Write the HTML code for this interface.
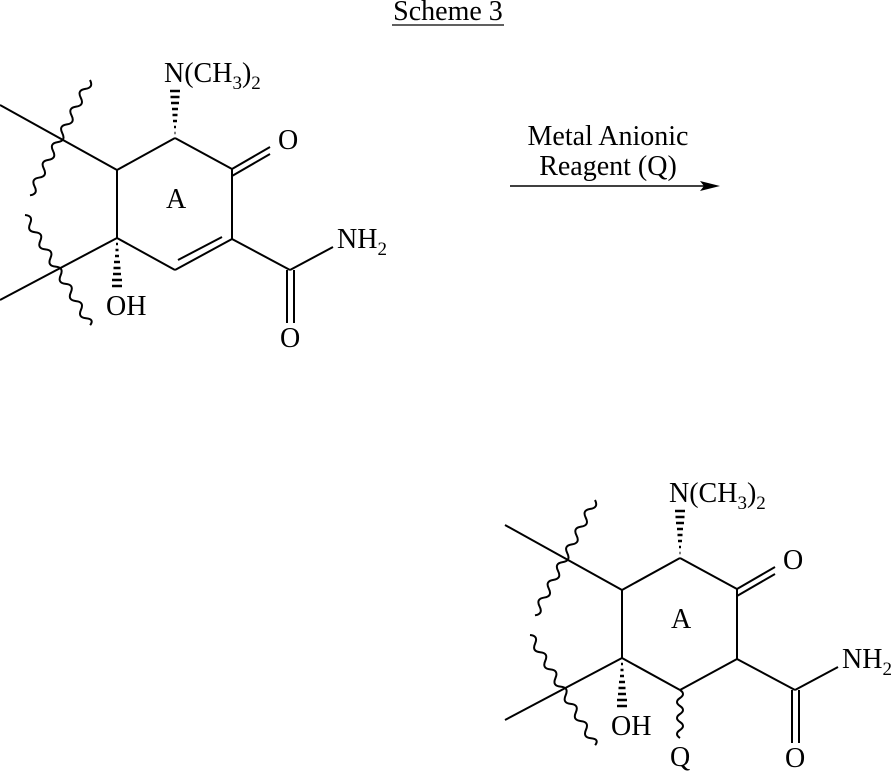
<!DOCTYPE html>
<html><head><meta charset="utf-8"><style>
html,body{margin:0;padding:0;background:#fff;}
svg{display:block;}
text{font-family:"Liberation Serif",serif;font-size:28px;fill:#000;}
</style></head><body>
<svg width="896" height="774" viewBox="0 0 896 774" xmlns="http://www.w3.org/2000/svg">
<defs>
<g id="core" stroke="#000" stroke-width="2" fill="none">
  <line x1="175" y1="138" x2="232" y2="169"/>
  <line x1="232" y1="169" x2="232" y2="239"/>
  <line x1="232" y1="239" x2="175" y2="270"/>
  <line x1="175" y1="270" x2="117" y2="238"/>
  <line x1="117" y1="238" x2="117" y2="170"/>
  <line x1="117" y1="170" x2="175" y2="138"/>
  <line x1="232" y1="169" x2="270" y2="147"/>
  <line x1="232" y1="176" x2="270" y2="154"/>
  <line x1="232" y1="239" x2="290" y2="270"/>
  <line x1="290" y1="270" x2="333" y2="247"/>
  <line x1="287" y1="270" x2="287" y2="323"/>
  <line x1="294" y1="270" x2="294" y2="323"/>
  <line x1="0" y1="105" x2="117" y2="170"/>
  <line x1="0" y1="300" x2="117" y2="238"/>
  <g transform="translate(90,80) rotate(117.5)"><path d="M0,0 q5,-7 10,0 t10,0 t10,0 t10,0 t10,0 t10,0 t10,0 t10,0 t10,0 t10,0 t10,0 t10,0 t10,0"/></g>
  <g transform="translate(25,215) rotate(59.4)"><path d="M0,0 q5,-7 10,0 t10,0 t10,0 t10,0 t10,0 t10,0 t10,0 t10,0 t10,0 t10,0 t10,0 t10,0 t8,0"/></g>
  <g stroke-width="2.5">
    <line x1="170" y1="91" x2="180" y2="91"/>
    <line x1="170.5" y1="97" x2="179.5" y2="97"/>
    <line x1="171" y1="103" x2="179" y2="103"/>
    <line x1="172" y1="109" x2="178" y2="109"/>
    <line x1="172.5" y1="115" x2="177.5" y2="115"/>
    <line x1="173" y1="121" x2="177" y2="121"/>
    <line x1="174" y1="127" x2="176" y2="127"/>
    <line x1="174.5" y1="133" x2="175.5" y2="133"/>
    <line x1="116" y1="244" x2="118" y2="244"/>
    <line x1="115.5" y1="250" x2="118.5" y2="250"/>
    <line x1="115" y1="256" x2="119" y2="256"/>
    <line x1="114" y1="262" x2="120" y2="262"/>
    <line x1="113.5" y1="268" x2="120.5" y2="268"/>
    <line x1="113" y1="274" x2="121" y2="274"/>
    <line x1="112" y1="280" x2="122" y2="280"/>
    <line x1="112" y1="286" x2="122" y2="286"/>
  </g>
</g>
<g id="labels">
  <text x="164" y="82">N(CH<tspan font-size="19" dy="7">3</tspan><tspan dy="-7">)</tspan><tspan font-size="19" dy="7">2</tspan></text>
  <text x="278" y="149">O</text>
  <text x="166" y="208">A</text>
  <text x="337" y="248">NH<tspan font-size="19" dy="7">2</tspan></text>
  <text x="280" y="347">O</text>
  <text x="106" y="315">OH</text>
</g>
</defs>

<text x="448" y="20" text-anchor="middle">Scheme 3</text>
<line x1="392" y1="25" x2="504" y2="25" stroke="#000" stroke-width="1.3"/>

<use href="#core"/>
<use href="#labels"/>
<line x1="178" y1="260" x2="222" y2="237" stroke="#000" stroke-width="2"/>

<text x="608" y="145" text-anchor="middle">Metal Anionic</text>
<text x="608" y="175" text-anchor="middle">Reagent (Q)</text>
<line x1="510" y1="186" x2="705" y2="186" stroke="#000" stroke-width="1.5"/>
<polygon points="720,186 700,181 704,186 700,191" fill="#000"/>

<g transform="translate(505,420)">
  <use href="#core"/>
  <use href="#labels"/>
  <g stroke="#000" stroke-width="2" fill="none" transform="translate(175,270) rotate(90)"><path d="M0,0 q4,-6 8,0 t8,0 t8,0 t8,0 t8,0 t8,0"/></g>
  <text x="165" y="346">Q</text>
</g>
</svg>
</body></html>
